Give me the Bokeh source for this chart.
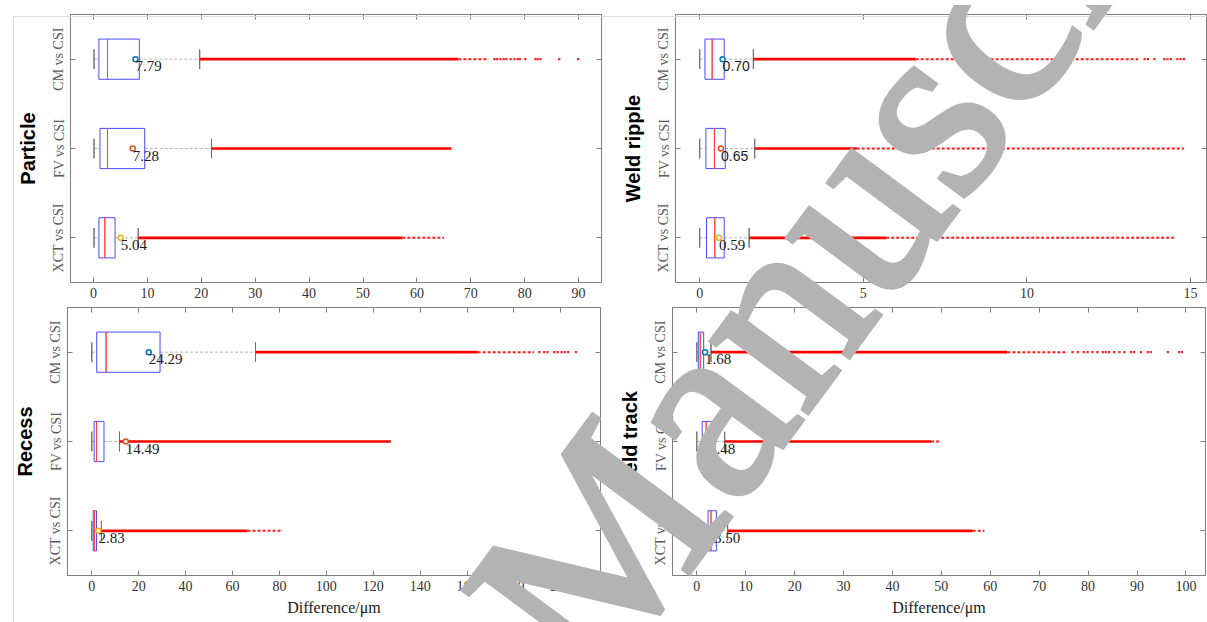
from bokeh.plotting import figure
from bokeh.layouts import row, column
from bokeh.models import (FactorRange, Range1d, CategoricalAxis, LinearAxis,
                          FixedTicker, ColumnDataSource, Div, InlineStyleSheet)
from bokeh.embed import file_html
from bokeh.resources import INLINE

# ---------------------------------------------------------------- data
COMPARISONS = ["CM vs CSI", "FV vs CSI", "XCT vs CSI"]
MEAN_COLORS = ["#0072BD", "#D95319", "#EDB120"]

# Particle
particle_q1 = [1.0, 1.2, 1.0]
particle_median = [2.6, 2.6, 2.1]
particle_q3 = [8.5, 9.5, 4.0]
particle_lower = [0.1, 0.1, 0.1]
particle_upper = [19.7, 21.9, 8.3]
particle_mean = [7.79, 7.28, 5.04]
particle_dense_end = [67.7, 66.4, 57.3]
particle_tail_end = [73.3, 66.4, 65.0]
particle_sparse = [[74.4, 74.9, 75.5, 76.1, 76.6, 77.4, 78.1, 78.7, 79.1, 80.1,
                    82.0, 82.4, 82.9, 86.4, 89.9], [], []]
particle_ticks = [0, 10, 20, 30, 40, 50, 60, 70, 80, 90]

# Weld ripple
ripple_q1 = [0.16, 0.19, 0.21]
ripple_median = [0.38, 0.45, 0.46]
ripple_q3 = [0.75, 0.78, 0.75]
ripple_lower = [0.0, 0.0, 0.0]
ripple_upper = [1.64, 1.68, 1.51]
ripple_mean = [0.70, 0.65, 0.59]
ripple_dense_end = [6.6, 4.8, 5.7]
ripple_tail_end = [13.4, 14.8, 14.5]
ripple_sparse = [[13.6, 13.7, 13.9, 14.2, 14.3, 14.4, 14.6, 14.7, 14.8], [], []]
ripple_ticks = [0, 5, 10, 15]

# Recess
recess_q1 = [2.1, 1.0, 0.6]
recess_median = [6.1, 2.0, 1.1]
recess_q3 = [29.1, 5.2, 2.0]
recess_lower = [0.0, 0.0, 0.0]
recess_upper = [69.8, 11.8, 4.1]
recess_mean = [24.29, 14.49, 2.83]
recess_dense_end = [164.5, 127.5, 66.4]
recess_tail_end = [188.6, 127.5, 81.4]
recess_sparse = [[190.8, 192.9, 194.3, 197.1, 198.6, 200.3, 201.7, 203.1, 206.4], [], []]
recess_ticks = [0, 20, 40, 60, 80, 100, 120, 140, 160, 180, 200]

# Weld track
track_q1 = [0.3, 1.1, 2.3]
track_median = [0.7, 1.9, 2.9]
track_q3 = [1.4, 3.0, 4.0]
track_lower = [0.0, 0.0, 0.0]
track_upper = [2.9, 5.7, 6.3]
track_mean = [1.68, 2.48, 3.50]
track_dense_end = [63.5, 47.9, 56.4]
track_tail_end = [75.8, 49.8, 58.8]
track_sparse = [[76.8, 77.9, 79.1, 79.9, 80.9, 81.9, 83.0, 83.6, 84.3, 85.3, 86.4,
                 87.4, 88.8, 89.4, 90.8, 92.2, 92.8, 96.3, 98.6, 99.2], [], []]
track_ticks = [0, 10, 20, 30, 40, 50, 60, 70, 80, 90, 100]

SERIF = "Liberation Serif"
SANS = "Liberation Sans"
WATERMARK = "Manuscript"

FRAME_H = 268
AXIS_GREY = "#808080"


def box_panel(name, q1, med, q3, lo, hi, mean, dense_end, tail_end, sparse,
              label_fonts, x_range, ticks, b_left, frame_w, b_right, b_top,
              b_bottom, xlabel):
    p = figure(y_range=FactorRange(factors=COMPARISONS[::-1]),
               x_range=Range1d(*x_range),
               frame_width=frame_w, frame_height=FRAME_H,
               min_border_left=b_left, min_border_right=b_right,
               min_border_top=b_top, min_border_bottom=b_bottom,
               output_backend="svg", toolbar_location=None)
    p.xgrid.visible = False
    p.ygrid.visible = False
    p.outline_line_color = AXIS_GREY
    p.outline_line_width = 1
    p.background_fill_color = "white"
    p.border_fill_color = "white"

    # whiskers (dashed) and caps
    p.segment(x0=lo, x1=q1, y0=COMPARISONS, y1=COMPARISONS,
              line_color="#b5b5b5", line_dash="3 2", line_width=1)
    p.segment(x0=q3, x1=hi, y0=COMPARISONS, y1=COMPARISONS,
              line_color="#b5b5b5", line_dash="3 2", line_width=1)
    p.hbar(y=COMPARISONS, left=lo, right=lo, height=0.22,
           fill_color=None, line_color="#707070", line_width=1)
    p.hbar(y=COMPARISONS, left=hi, right=hi, height=0.22,
           fill_color=None, line_color="#707070", line_width=1)

    # outliers: dense run, thinner run, then isolated points
    p.segment(x0=hi, x1=dense_end, y0=COMPARISONS, y1=COMPARISONS,
              line_color="#ff0000", line_width=2.6)
    p.segment(x0=dense_end, x1=tail_end, y0=COMPARISONS, y1=COMPARISONS,
              line_color="#ff1a1a", line_width=2, line_dash="3 2")
    sx, sy = [], []
    for cat, pts in zip(COMPARISONS, sparse):
        sx += pts
        sy += [cat] * len(pts)
    p.scatter(x=sx, y=sy, marker="square", size=2.2, line_width=0,
              fill_color="#ff2020")

    # boxes and medians
    p.hbar(y=COMPARISONS, left=q1, right=q3, height=0.45,
           fill_color=None, line_color="#4a4aff", line_width=1)
    p.hbar(y=COMPARISONS, left=med, right=med, height=0.45,
           fill_color=None, line_color="#ff4040", line_width=1)

    # means with value labels
    p.scatter(x=mean, y=COMPARISONS, marker="circle", size=5,
              fill_color="white", line_color=MEAN_COLORS, line_width=1.5)
    src = ColumnDataSource(dict(
        x=mean, y=COMPARISONS, text=[f"{m:.2f}" for m in mean],
        font=label_fonts,
        size=["14px" if f == SANS else "15px" for f in label_fonts]))
    p.text(x="x", y="y", text="text", source=src, text_font="font",
           text_font_size="size", text_align="left", text_baseline="top",
           y_offset=2, text_color="#1a1a1a")

    # axes
    xa = p.xaxis[0]
    xa.ticker = FixedTicker(ticks=ticks)
    xa.minor_tick_line_color = None
    xa.major_tick_in = 5
    xa.major_tick_out = 0
    xa.axis_line_color = AXIS_GREY
    xa.major_tick_line_color = AXIS_GREY
    xa.major_label_text_font = SERIF
    xa.major_label_text_font_size = "14px"
    xa.major_label_text_color = "#333333"
    xa.major_label_standoff = 5
    if xlabel:
        xa.axis_label = xlabel
        xa.axis_label_text_font = SERIF
        xa.axis_label_text_font_style = "normal"
        xa.axis_label_text_font_size = "16px"
        xa.axis_label_text_color = "#1a1a1a"
        xa.axis_label_standoff = 5

    ya = p.yaxis[0]
    ya.major_tick_in = 5
    ya.major_tick_out = 0
    ya.axis_line_color = AXIS_GREY
    ya.major_tick_line_color = AXIS_GREY
    ya.major_label_orientation = "vertical"
    ya.major_label_text_font = SERIF
    ya.major_label_text_font_size = "14px"
    ya.major_label_text_color = "#595959"
    ya.major_label_standoff = 4
    ya.axis_label = name
    ya.axis_label_text_font = SANS
    ya.axis_label_text_font_style = "bold"
    ya.axis_label_text_font_size = "20px"
    ya.axis_label_text_color = "#000000"
    ya.axis_label_standoff = 10

    # mirrored tick marks on the top and right edges (no labels)
    top = LinearAxis(ticker=FixedTicker(ticks=ticks), major_tick_in=5,
                     major_tick_out=0, major_label_text_font_size="0px",
                     major_label_text_color=None,
                     major_label_standoff=0, minor_tick_line_color=None,
                     axis_line_color=AXIS_GREY, major_tick_line_color=AXIS_GREY)
    p.add_layout(top, "above")
    right = CategoricalAxis(major_tick_in=5, major_tick_out=0,
                            major_label_text_font_size="0px",
                            major_label_text_color=None,
                            major_label_standoff=0,
                            axis_line_color=AXIS_GREY,
                            major_tick_line_color=AXIS_GREY)
    p.add_layout(right, "right")
    return p


TOP_T, TOP_B = 14, 23
BOT_T, BOT_B = 2, 47

p_particle = box_panel("Particle", particle_q1, particle_median, particle_q3,
                       particle_lower, particle_upper, particle_mean,
                       particle_dense_end, particle_tail_end, particle_sparse,
                       [SERIF, SERIF, SERIF], (-4.27, 94.25), particle_ticks,
                       70, 531, 2, TOP_T, TOP_B, None)
p_ripple = box_panel("Weld ripple", ripple_q1, ripple_median, ripple_q3,
                     ripple_lower, ripple_upper, ripple_mean,
                     ripple_dense_end, ripple_tail_end, ripple_sparse,
                     [SANS, SANS, SERIF], (-0.74, 15.49), ripple_ticks,
                     72, 531, 1, TOP_T, TOP_B, None)
p_recess = box_panel("Recess", recess_q1, recess_median, recess_q3,
                     recess_lower, recess_upper, recess_mean,
                     recess_dense_end, recess_tail_end, recess_sparse,
                     [SERIF, SERIF, SERIF], (-10.36, 216.9), recess_ticks,
                     67, 533, 3, BOT_T, BOT_B, "Difference/μm")
p_track = box_panel("Weld track", track_q1, track_median, track_q3,
                    track_lower, track_upper, track_mean,
                    track_dense_end, track_tail_end, track_sparse,
                    [SERIF, SERIF, SERIF], (-4.97, 104.0), track_ticks,
                    69, 533, 2, BOT_T, BOT_B, "Difference/μm")

PAGE_W, PAGE_H = 1207, 622

# Page overlay: thin page frame plus the grey diagonal watermark that runs
# across all four panels.
WM_SIZE = 262
WM_ANGLE = 53.5
WM_BASE = round(WM_SIZE * 0.8375, 1)   # baseline offset inside the line box
WM_X, WM_Y = 592, 693                  # start of the baseline on the page
overlay_html = (
    '<div style="position:absolute;left:8px;top:11px;width:1199px;'
    'height:611px;border-left:1px solid #dedede;border-top:1px solid #dedede;"></div>'
    f'<div style="position:absolute;left:{WM_X}px;top:{WM_Y - WM_BASE}px;'
    f'font-family:\'{SERIF}\';font-size:{WM_SIZE}px;line-height:1;'
    f'color:#b3b3b3;-webkit-text-stroke:5px #b3b3b3;white-space:nowrap;'
    f'margin:0;padding:0;'
    f'transform-origin:0px {WM_BASE}px;transform:rotate(-{WM_ANGLE}deg);">'
    f'{WATERMARK}</div>'
)
overlay = Div(
    text=overlay_html, width=PAGE_W, height=PAGE_H,
    styles={"position": "absolute", "left": "0px", "top": "0px",
            "overflow": "hidden", "pointer-events": "none", "z-index": "100"},
    stylesheets=[InlineStyleSheet(css=(
        ":host { position: absolute !important; left: 0px !important; "
        "top: 0px !important; overflow: hidden !important; "
        "pointer-events: none; z-index: 100; }"))],
)

layout = column(row(p_particle, p_ripple), row(p_recess, p_track), overlay)

with open("out.html", "w") as f:
    f.write(file_html(layout, INLINE))
